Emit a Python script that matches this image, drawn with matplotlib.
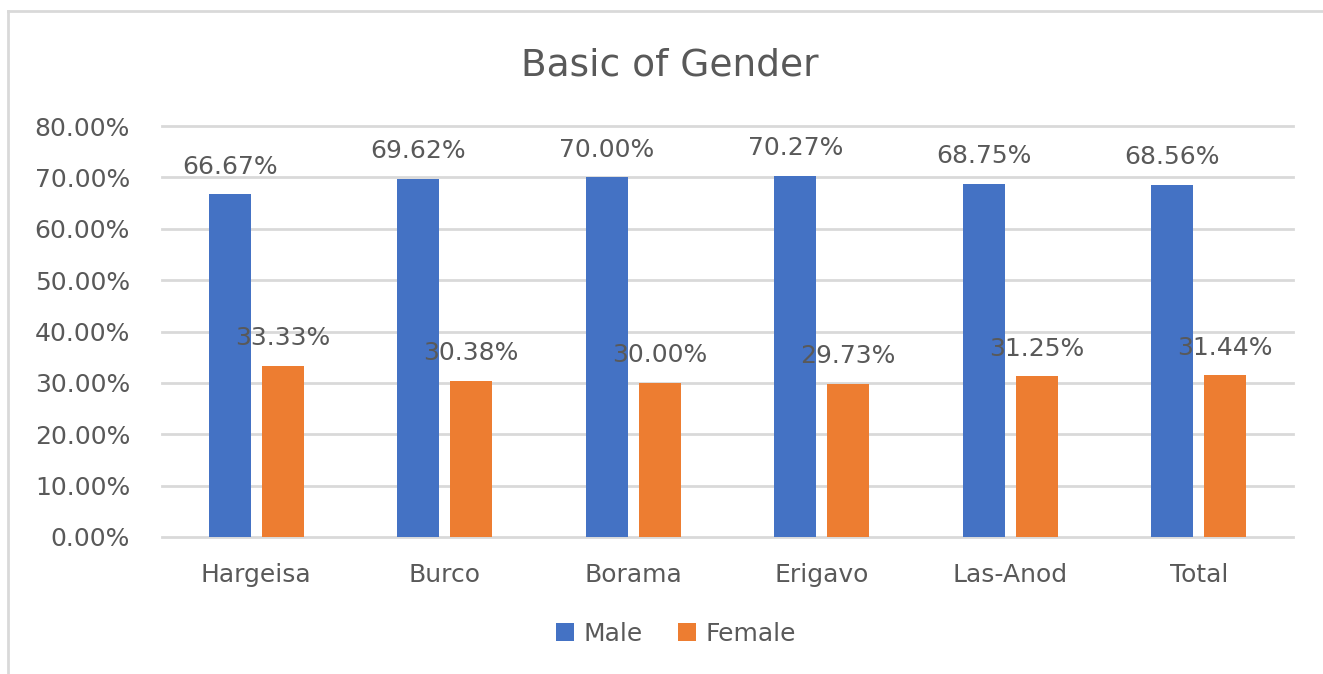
import numpy as np
import matplotlib.pyplot as plt

# data
cities = ['Hargeisa', 'Burco', 'Borama', 'Erigavo', 'Las-Anod', 'Total']
male = [66.67, 69.62, 70.00, 70.27, 68.75, 68.56]
female = [33.33, 30.38, 30.00, 29.73, 31.25, 31.44]
yticks = [0, 10, 20, 30, 40, 50, 60, 70, 80]

plt.rcParams['font.family'] = ['DejaVu Sans']
txt = '#595959'
fs = 18

fig = plt.figure(figsize=(13.23, 6.74), dpi=100)
ax = fig.add_axes([162 / 1323, 1 - 537 / 674, (1293 - 162) / 1323, (537 - 126) / 674])

x = np.arange(len(cities))
w = 0.223
off = 0.14
b1 = ax.bar(x - off, male, w, color='#4472C4', label='Male', zorder=3)
b2 = ax.bar(x + off, female, w, color='#ED7D31', label='Female', zorder=3)

# value labels (baseline ~21px above bar top)
for xi, v in zip(x - off, male):
    ax.annotate(f'{v:.2f}%', (xi, v), xytext=(0, 15), textcoords='offset points',
                ha='center', va='baseline', fontsize=fs, color=txt, zorder=4)
for xi, v in zip(x + off, female):
    ax.annotate(f'{v:.2f}%', (xi, v), xytext=(0, 15), textcoords='offset points',
                ha='center', va='baseline', fontsize=fs, color=txt, zorder=4)

ax.set_xlim(-0.5, len(cities) - 0.5)
ax.set_ylim(0, 80)
ax.set_yticks(yticks)
ax.set_yticklabels([f'{t:.2f}%' for t in yticks])
ax.set_xticks(x)
ax.set_xticklabels(cities)
ax.tick_params(axis='both', length=0, labelsize=fs, colors=txt)
ax.tick_params(axis='y', pad=23)
ax.tick_params(axis='x', pad=19)
ax.grid(axis='y', color='#D9D9D9', linewidth=2, zorder=0)
for gl in ax.get_ygridlines():
    gl.set_clip_on(False)
for s in ax.spines.values():
    s.set_visible(False)
ax.set_axisbelow(True)

fig.text(670 / 1323, 1 - 76 / 674, 'Basic of Gender', ha='center', va='baseline',
         fontsize=27, color=txt)

fig.legend(handles=[b1, b2], loc='center', bbox_to_anchor=(676 / 1323, 1 - 634 / 674),
           ncol=2, frameon=False, fontsize=fs, labelcolor=txt,
           handlelength=0.72, handleheight=0.72, handletextpad=0.4, columnspacing=1.4)

# chart border (left and top visible)
fig.add_artist(plt.Line2D([8 / 1323, 8 / 1323], [0, 1 - 11 / 674], transform=fig.transFigure,
                          color='#D9D9D9', linewidth=2))
fig.add_artist(plt.Line2D([8 / 1323, 1], [1 - 11 / 674, 1 - 11 / 674], transform=fig.transFigure,
                          color='#D9D9D9', linewidth=2))

fig.savefig('out.png', dpi=100)
